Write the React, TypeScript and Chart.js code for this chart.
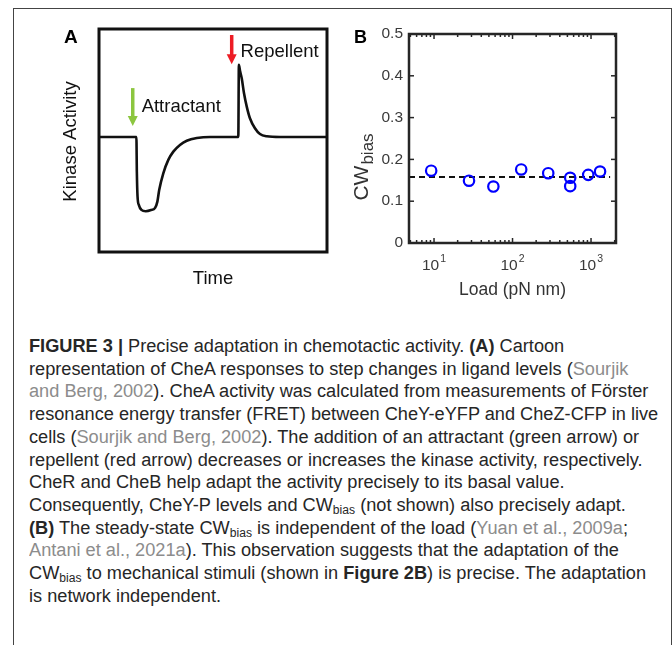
import React, { useEffect, useRef } from "react";
import { Chart, registerables } from "chart.js";

Chart.register(...registerables);

const FONT = '"Liberation Sans", Arial, Helvetica, sans-serif';

// ---------- Panel A: cartoon of CheA kinase activity (arbitrary units) ----------
const cartoonTime = [0, 16.4, 16.6, 16.9, 17.5, 18.6, 20.5, 22.8, 24.6, 25.6, 26.4, 28.2, 30.4, 32.6, 35.5, 38.5, 42.9, 48.7, 61.1, 61.35, 61.9, 62.6, 63.6, 64.8, 66.2, 68.4, 70.6, 73.6, 79.4, 100];
const cartoonActivity = [51.6, 51.6, 36, 25, 21, 18.9, 18.3, 18.8, 19.8, 22.6, 27.8, 35.3, 41.3, 45, 48, 49.9, 51.1, 51.6, 51.6, 83.9, 81, 77.9, 71.2, 65.2, 60, 55.5, 52.9, 51.9, 51.6, 51.6];
const stimulusNames = ["Attractant", "Repellent"];
const stimulusTimes = [14.8, 58.2];
const arrowFrom = [73.5, 97.3];
const arrowTo = [56.5, 84.2];
const stimulusColors = ["#8cc63f", "#ed1c24"];
const labelTimes = [18.7, 62.1];
const labelLevels = [64.9, 89.8];

// ---------- Panel B: CW bias vs load ----------
const loads = [9.2, 27.9, 57, 129, 285, 543, 543, 921, 1303];
const cwBias = [0.173, 0.149, 0.135, 0.176, 0.167, 0.156, 0.136, 0.163, 0.171];
const meanLoads = [4.8, 1750];
const meanCw = [0.158, 0.158];
const yTicks = [0, 0.1, 0.2, 0.3, 0.4, 0.5];
const yTickLabels = ["0", "0.1", "0.2", "0.3", "0.4", "0.5"];
const xMajorTicks = [10, 100, 1000];
const xExponents = ["1", "2", "3"];
const xMinorTicks = [5, 6, 7, 8, 9, 20, 30, 40, 50, 60, 70, 80, 90, 200, 300, 400, 500, 600, 700, 800, 900, 2000];

type Seg = { t: string; b?: boolean; c?: boolean; s?: boolean };
const caption: Seg[][] = [
  [{ t: "FIGURE 3 | ", b: true }, { t: "Precise adaptation in chemotactic activity. " }, { t: "(A)", b: true }, { t: " Cartoon" }],
  [{ t: "representation of CheA responses to step changes in ligand levels (" }, { t: "Sourjik", c: true }],
  [{ t: "and Berg, 2002", c: true }, { t: "). CheA activity was calculated from measurements of Förster" }],
  [{ t: "resonance energy transfer (FRET) between CheY-eYFP and CheZ-CFP in live" }],
  [{ t: "cells (" }, { t: "Sourjik and Berg, 2002", c: true }, { t: "). The addition of an attractant (green arrow) or" }],
  [{ t: "repellent (red arrow) decreases or increases the kinase activity, respectively." }],
  [{ t: "CheR and CheB help adapt the activity precisely to its basal value." }],
  [{ t: "Consequently, CheY-P levels and CW" }, { t: "bias", s: true }, { t: " (not shown) also precisely adapt." }],
  [{ t: "(B)", b: true }, { t: " The steady-state CW" }, { t: "bias", s: true }, { t: " is independent of the load (" }, { t: "Yuan et al., 2009a", c: true }, { t: ";" }],
  [{ t: "Antani et al., 2021a", c: true }, { t: "). This observation suggests that the adaptation of the" }],
  [{ t: "CW" }, { t: "bias", s: true }, { t: " to mechanical stimuli (shown in " }, { t: "Figure 2B", b: true }, { t: ") is precise. The adaptation" }],
  [{ t: "is network independent." }],
];

function drawArrow(ctx: CanvasRenderingContext2D, x: number, y0: number, y1: number, color: string) {
  const head = 10;
  ctx.save();
  ctx.strokeStyle = color;
  ctx.fillStyle = color;
  ctx.lineWidth = 3.5;
  ctx.beginPath();
  ctx.moveTo(x, y0);
  ctx.lineTo(x, y1 - head + 1);
  ctx.stroke();
  ctx.beginPath();
  ctx.moveTo(x - 5, y1 - head);
  ctx.lineTo(x + 5, y1 - head);
  ctx.lineTo(x, y1);
  ctx.closePath();
  ctx.fill();
  ctx.restore();
}

const panelAPlugin = {
  id: "panelA",
  afterDraw(chart: any) {
    const { ctx, chartArea: a, scales } = chart;
    const xs = scales.x, ys = scales.y;
    ctx.save();
    ctx.strokeStyle = "#111";
    ctx.lineWidth = 3;
    ctx.strokeRect(a.left, a.top, a.right - a.left, a.bottom - a.top);
    for (let i = 0; i < stimulusNames.length; i++) {
      drawArrow(ctx, xs.getPixelForValue(stimulusTimes[i]), ys.getPixelForValue(arrowFrom[i]), ys.getPixelForValue(arrowTo[i]), stimulusColors[i]);
      ctx.fillStyle = "#111";
      ctx.font = `18.5px ${FONT}`;
      ctx.textAlign = "left";
      ctx.textBaseline = "middle";
      ctx.fillText(stimulusNames[i], xs.getPixelForValue(labelTimes[i]), ys.getPixelForValue(labelLevels[i]));
    }
    ctx.fillStyle = "#000";
    ctx.font = `bold 19px ${FONT}`;
    ctx.textAlign = "left";
    ctx.textBaseline = "alphabetic";
    ctx.fillText("A", 64, 43);
    ctx.font = `18.5px ${FONT}`;
    ctx.fillStyle = "#111";
    ctx.textAlign = "center";
    ctx.textBaseline = "middle";
    ctx.fillText("Time", (a.left + a.right) / 2, a.bottom + 27);
    ctx.save();
    ctx.translate(a.left - 28, (a.top + a.bottom) / 2 + 1);
    ctx.rotate(-Math.PI / 2);
    ctx.fillText("Kinase Activity", 0, 0);
    ctx.restore();
    ctx.restore();
  },
};

const panelBPlugin = {
  id: "panelB",
  afterDraw(chart: any) {
    const { ctx, chartArea: a, scales } = chart;
    const xs = scales.x, ys = scales.y;
    const seg = (x0: number, y0: number, x1: number, y1: number) => {
      ctx.beginPath();
      ctx.moveTo(x0, y0);
      ctx.lineTo(x1, y1);
      ctx.stroke();
    };
    ctx.save();
    ctx.strokeStyle = "#262626";
    ctx.lineWidth = 1.5;
    for (const v of yTicks) {
      const y = ys.getPixelForValue(v);
      seg(a.left, y, a.left + 5, y);
      seg(a.right - 5, y, a.right, y);
    }
    for (const v of xMajorTicks) {
      const x = xs.getPixelForValue(v);
      seg(x, a.bottom, x, a.bottom - 5);
      seg(x, a.top, x, a.top + 5);
    }
    for (const v of xMinorTicks) {
      const x = xs.getPixelForValue(v);
      if (x < a.left || x > a.right) continue;
      seg(x, a.bottom, x, a.bottom - 3);
      seg(x, a.top, x, a.top + 3);
    }
    ctx.lineWidth = 2.5;
    ctx.strokeRect(a.left, a.top, a.right - a.left, a.bottom - a.top);

    ctx.fillStyle = "#3a3a3a";
    ctx.font = `15.5px ${FONT}`;
    ctx.textAlign = "right";
    ctx.textBaseline = "middle";
    yTicks.forEach((v, i) => ctx.fillText(yTickLabels[i], a.left - 6, ys.getPixelForValue(v)));

    xMajorTicks.forEach((v, i) => {
      const x = xs.getPixelForValue(v);
      ctx.font = `15.5px ${FONT}`;
      const wb = ctx.measureText("10").width;
      ctx.font = `10.5px ${FONT}`;
      const we = ctx.measureText(xExponents[i]).width;
      const x0 = x - (wb + 1 + we) / 2;
      ctx.textAlign = "left";
      ctx.textBaseline = "alphabetic";
      ctx.font = `15.5px ${FONT}`;
      ctx.fillText("10", x0, a.bottom + 27);
      ctx.font = `10.5px ${FONT}`;
      ctx.fillText(xExponents[i], x0 + wb + 1, a.bottom + 19);
    });

    ctx.fillStyle = "#333";
    ctx.font = `17.5px ${FONT}`;
    ctx.textAlign = "center";
    ctx.textBaseline = "alphabetic";
    ctx.fillText("Load (pN nm)", (a.left + a.right) / 2, a.bottom + 52);

    ctx.save();
    ctx.font = `21px ${FONT}`;
    const wcw = ctx.measureText("CW").width;
    ctx.font = `17px ${FONT}`;
    const wb2 = ctx.measureText("bias").width;
    const total = wcw + wb2 + 1;
    ctx.translate(a.left - 41, 167);
    ctx.rotate(-Math.PI / 2);
    ctx.textAlign = "left";
    ctx.textBaseline = "alphabetic";
    ctx.font = `21px ${FONT}`;
    ctx.fillText("CW", -total / 2, 0);
    ctx.font = `17px ${FONT}`;
    ctx.fillText("bias", -total / 2 + wcw + 1, 5);
    ctx.restore();

    ctx.fillStyle = "#000";
    ctx.font = `bold 18px ${FONT}`;
    ctx.textAlign = "left";
    ctx.textBaseline = "alphabetic";
    ctx.fillText("B", 14, 43);
    ctx.restore();
  },
};

function PanelA() {
  const ref = useRef<HTMLCanvasElement>(null);
  useEffect(() => {
    const chart = new Chart(ref.current!, {
      type: "line",
      data: {
        datasets: [
          {
            data: cartoonTime.map((t, i) => ({ x: t, y: cartoonActivity[i] })),
            borderColor: "#111",
            borderWidth: 2.6,
            pointRadius: 0,
            cubicInterpolationMode: "monotone",
            fill: false,
          },
        ],
      },
      options: {
        responsive: false,
        animation: false,
        events: [],
        layout: { padding: { left: 99, right: 13, top: 29, bottom: 48 } },
        plugins: { legend: { display: false }, tooltip: { enabled: false } },
        scales: {
          x: { type: "linear", min: 0, max: 100, display: false },
          y: { type: "linear", min: 0, max: 100, display: false },
        },
      },
      plugins: [panelAPlugin],
    } as any);
    return () => chart.destroy();
  }, []);
  return <canvas ref={ref} width={340} height={300} style={{ position: "absolute", left: 0, top: 0, width: 340, height: 300 }} />;
}

function PanelB() {
  const ref = useRef<HTMLCanvasElement>(null);
  useEffect(() => {
    const chart = new Chart(ref.current!, {
      type: "scatter",
      data: {
        datasets: [
          {
            data: loads.map((l, i) => ({ x: l, y: cwBias[i] })),
            showLine: false,
            pointStyle: "circle",
            pointRadius: 5.2,
            pointBorderWidth: 2.2,
            pointBorderColor: "#0000ff",
            pointBackgroundColor: "rgba(0,0,0,0)",
            order: 1,
          },
          {
            data: meanLoads.map((l, i) => ({ x: l, y: meanCw[i] })),
            showLine: true,
            borderColor: "#111",
            borderWidth: 2,
            borderDash: [6, 4],
            pointRadius: 0,
            order: 2,
          },
        ],
      },
      options: {
        responsive: false,
        animation: false,
        events: [],
        layout: { padding: { left: 69, right: 56, top: 34, bottom: 57 } },
        plugins: { legend: { display: false }, tooltip: { enabled: false } },
        scales: {
          x: { type: "logarithmic", min: 4.8, max: 2080, display: false },
          y: { type: "linear", min: 0, max: 0.5, display: false },
        },
      },
      plugins: [panelBPlugin],
    } as any);
    return () => chart.destroy();
  }, []);
  return <canvas ref={ref} width={332} height={300} style={{ position: "absolute", left: 340, top: 0, width: 332, height: 300 }} />;
}

export default function App() {
  return (
    <div style={{ position: "absolute", left: 0, top: 0, width: 672, height: 645, overflow: "hidden", background: "#fff" }}>
      <div style={{ position: "absolute", left: 13, top: 8, width: 657, height: 700, border: "1px solid #444", borderBottom: "none" }} />
      <PanelA />
      <PanelB />
      {caption.map((line, i) => (
        <div
          key={i}
          style={{
            position: "absolute",
            left: 29,
            top: 335 + i * 22.7,
            whiteSpace: "pre",
            font: `18px ${FONT}`,
            lineHeight: "22px",
            color: "#262626",
            transform: "scaleX(1.01)",
            transformOrigin: "0 0",
          }}
        >
          {line.map((s, j) => (
            <span
              key={j}
              style={{
                fontWeight: s.b ? 700 : 400,
                color: s.c ? "#8c8c8c" : undefined,
                fontSize: s.s ? "12px" : undefined,
                verticalAlign: s.s ? "-3px" : undefined,
              }}
            >
              {s.t}
            </span>
          ))}
        </div>
      ))}
    </div>
  );
}
